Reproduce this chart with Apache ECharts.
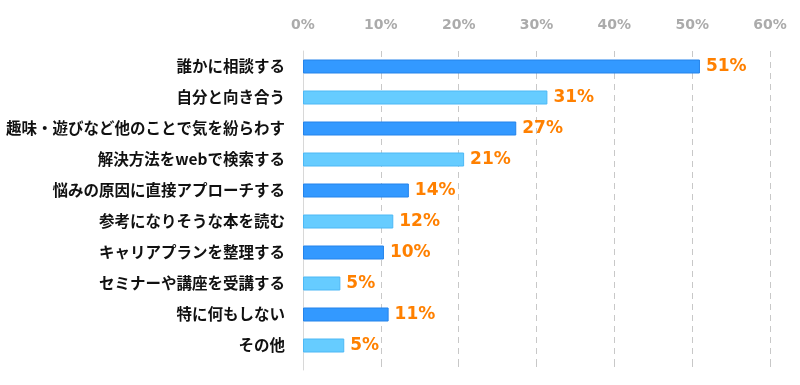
<!DOCTYPE html>
<html>
<head>
<meta charset="utf-8">
<script src="https://cdn.jsdelivr.net/npm/echarts@6/dist/echarts.min.js"></script>
<style>html,body{margin:0;padding:0;background:#fff;}#c{width:800px;height:385px;}</style>
</head>
<body>
<div id="c"></div>
<script>
const categories = ['誰かに相談する','自分と向き合う','趣味・遊びなど他のことで気を紛らわす','解決方法をwebで検索する','悩みの原因に直接アプローチする','参考になりそうな本を読む','キャリアプランを整理する','セミナーや講座を受講する','特に何もしない','その他'];
const values = [51.0, 31.4, 27.4, 20.7, 13.6, 11.6, 10.4, 4.8, 11.0, 5.3];
const xTicks = [0, 10, 20, 30, 40, 50, 60];

const darkFill = '#3399FF', darkBorder = '#2583EA';
const lightFill = '#66CCFF', lightBorder = '#4DB8F5';

const chart = echarts.init(document.getElementById('c'));
const barData = values.map((v, i) => ({
  value: v,
  itemStyle: {
    color: i % 2 === 0 ? darkFill : lightFill,
    borderColor: i % 2 === 0 ? darkBorder : lightBorder,
    borderWidth: 1
  }
}));

chart.setOption({
  animation: false,
  grid: [
    {left: 303, right: 30, top: 51, height: 310},
    {left: 303, right: 30, top: 361, height: 9}
  ],
  xAxis: [
    {
      gridIndex: 0, type: 'value', position: 'top',
      min: xTicks[0], max: xTicks[xTicks.length - 1], interval: 10,
      axisLine: {show: false}, axisTick: {show: false},
      axisLabel: {
        formatter: v => v + '%', color: '#ABABAB', fontWeight: 'bold',
        fontSize: 14, fontFamily: 'DejaVu Sans', margin: 19
      },
      splitLine: {show: true, lineStyle: {type: [6, 5], color: '#C8C8C8', width: 1}}
    },
    {
      gridIndex: 1, type: 'value', position: 'top',
      min: xTicks[0], max: xTicks[xTicks.length - 1], interval: 10,
      axisLine: {show: false}, axisTick: {show: false}, axisLabel: {show: false},
      splitLine: {show: true, lineStyle: {type: [6, 5], color: '#C8C8C8', width: 1}}
    }
  ],
  yAxis: [
    {
      gridIndex: 0, type: 'category', data: categories, inverse: true,
      axisLine: {show: true, lineStyle: {color: '#D8D8D8'}},
      axisTick: {show: false},
      axisLabel: {
        color: '#111', fontWeight: 'bold', fontSize: 15.5,
        fontFamily: '"Noto Sans CJK JP", sans-serif', margin: 18
      }
    },
    {
      gridIndex: 1, type: 'category', data: [''],
      axisLine: {show: true, lineStyle: {color: '#D8D8D8'}},
      axisTick: {show: false}, axisLabel: {show: false}
    }
  ],
  series: [{
    type: 'bar', xAxisIndex: 0, yAxisIndex: 0,
    data: barData, barWidth: 14,
    label: {
      show: true, position: 'right', distance: 6,
      formatter: p => Math.round(p.value) + '%',
      color: '#FF8000', fontWeight: 'bold', fontSize: 17,
      fontFamily: 'DejaVu Sans'
    }
  }]
});
</script>
</body>
</html>
